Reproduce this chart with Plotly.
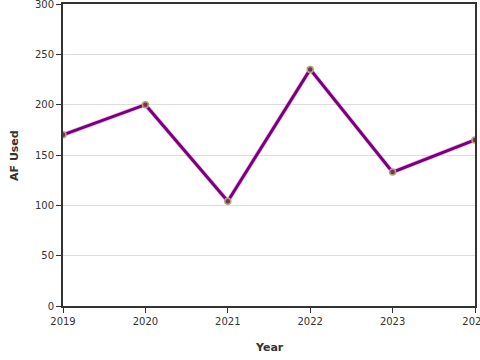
import plotly.graph_objects as go

years = [2019, 2020, 2021, 2022, 2023, 2024]
af_used = [170, 200, 104, 235, 133, 165]

fig = go.Figure()
fig.add_trace(go.Scatter(
    x=years, y=af_used, mode="lines",
    line=dict(color="rgba(220,110,220,0.45)", width=4.5),
    hoverinfo="skip", showlegend=False,
))
fig.add_trace(go.Scatter(
    x=years, y=af_used, mode="lines+markers",
    line=dict(color="#7a007a", width=3),
    marker=dict(size=6, color="#72306a", line=dict(color="#b8a070", width=1.5)),
    showlegend=False,
))

axis_common = dict(
    showline=True, linecolor="#333333", linewidth=2, mirror=True,
    ticks="outside", ticklen=5, tickcolor="#333333", tickwidth=1,
    tickfont=dict(family="DejaVu Sans", size=10, color="#333333"),
    automargin=False, zeroline=False, ticklabeloverflow="allow",
)
fig.update_layout(
    width=480, height=360,
    margin=dict(l=63, r=5, t=4, b=54),
    paper_bgcolor="white", plot_bgcolor="white",
    font=dict(family="DejaVu Sans", color="#333333"),
    xaxis=dict(range=[2019, 2024], tickmode="array", tickvals=years,
               showgrid=False, **axis_common),
    yaxis=dict(range=[0, 300], dtick=50, showgrid=True, gridcolor="#dddddd",
               gridwidth=1, **axis_common),
    annotations=[
        dict(text="<b>Year</b>", xref="paper", yref="paper", x=0.5, y=-0.136,
             xanchor="center", yanchor="middle", showarrow=False,
             font=dict(size=11, color="#333333")),
        dict(text="<b>AF Used</b>", xref="paper", yref="paper", x=-0.119, y=0.5,
             xanchor="center", yanchor="middle", textangle=-90, showarrow=False,
             font=dict(size=11, color="#333333")),
    ],
)
fig.write_html("out.html", config={"displayModeBar": False},
               post_script="document.body.style.margin='0';document.body.style.overflow='hidden';")
